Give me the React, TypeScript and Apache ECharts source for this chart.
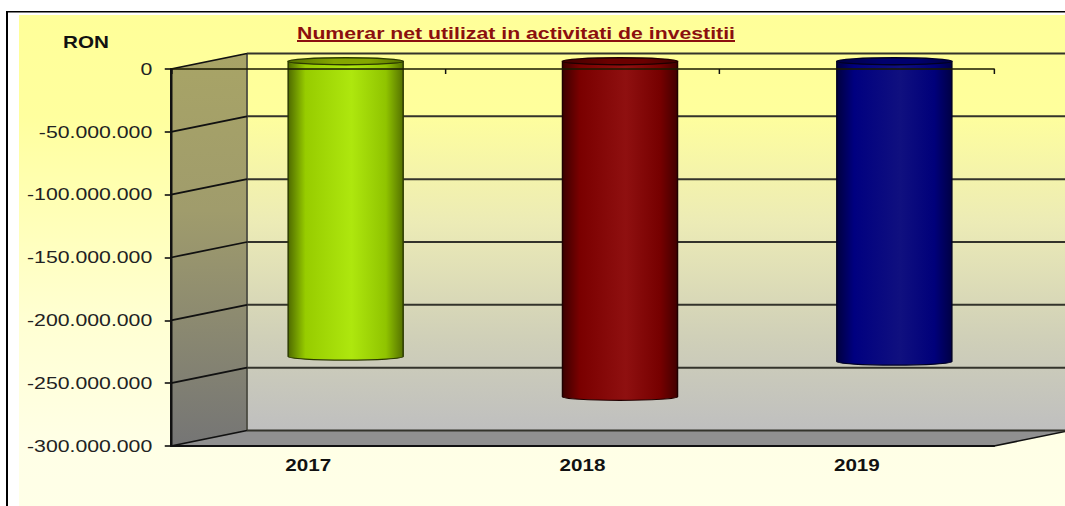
import React, { useEffect, useRef } from "react";
import * as echarts from "echarts";

const years = ["2017", "2018", "2019"];
const cashValues = [-235000000, -267000000, -239000000];
const yTicks = [0, -50000000, -100000000, -150000000, -200000000, -250000000, -300000000];
const yTickLabels = ["0", "-50.000.000", "-100.000.000", "-150.000.000", "-200.000.000", "-250.000.000", "-300.000.000"];
const chartTitle = "Numerar net utilizat in activitati de investitii";
const unitLabel = "RON";
// edge, shade, bright, shade, edge, rim, rim stroke
const barPalettes = [
  ["#4f6b00", "#97cc00", "#aee70e", "#90c400", "#557200", "#84a600", "#2c3a00"],
  ["#3c0000", "#7a0000", "#8f1010", "#760000", "#420000", "#6a0000", "#200000"],
  ["#00003f", "#000080", "#10107f", "#00007a", "#000045", "#00006e", "#000025"],
];

const SX = 1.25; // the reference is horizontally stretched
const W = 1065 / SX;
const H = 506;
const DX = 76 / SX;
const DY = 15.5;
const BAR_W = 115 / SX;
const RY = 3.5;

const barGradient = (p: string[]) =>
  new echarts.graphic.LinearGradient(0, 0, 1, 0, [
    { offset: 0, color: p[0] },
    { offset: 0.15, color: p[1] },
    { offset: 0.55, color: p[2] },
    { offset: 0.85, color: p[3] },
    { offset: 1, color: p[4] },
  ]);

const rimGradient = (p: string[]) =>
  new echarts.graphic.LinearGradient(0, 0, 1, 0, [
    { offset: 0, color: p[4] },
    { offset: 0.4, color: p[5] },
    { offset: 0.7, color: p[5] },
    { offset: 1, color: p[4] },
  ]);

const renderWalls = (params: any, api: any) => {
  const cs = params.coordSys;
  const y = api.coord([0, api.value(1)])[1];
  const x0 = cs.x;
  const x1 = cs.x + cs.width;
  const yt = cs.y;
  const yb = cs.y + cs.height;
  const children: any[] = [];
  if (params.dataIndex === 0) {
    children.push(
      {
        type: "rect",
        shape: { x: x0 + DX, y: yt - DY, width: cs.width + 10, height: cs.height },
        style: {
          fill: new echarts.graphic.LinearGradient(0, 0, 0, 1, [
            { offset: 0, color: "#ffff99" },
            { offset: 0.15, color: "#ffff9c" },
            { offset: 0.45, color: "#ecebb6" },
            { offset: 0.75, color: "#d0d0b8" },
            { offset: 1, color: "#bfbfbf" },
          ]),
        },
      },
      {
        type: "polygon",
        shape: { points: [[x0, yt], [x0 + DX, yt - DY], [x0 + DX, yb - DY], [x0, yb]] },
        style: {
          fill: new echarts.graphic.LinearGradient(0, 0, 0, 1, [
            { offset: 0, color: "#a8a466" },
            { offset: 0.4, color: "#a09c6c" },
            { offset: 1, color: "#757575" },
          ]),
        },
      },
      {
        type: "polygon",
        shape: { points: [[x0, yb], [x0 + DX, yb - DY], [x1 + DX, yb - DY], [x1, yb]] },
        style: { fill: "#909090" },
      },
      {
        type: "line",
        shape: { x1: x0 + DX, y1: yt - DY, x2: x0 + DX, y2: yb - DY },
        style: { stroke: "#4a4a40", lineWidth: 1.4 },
      },
      {
        type: "line",
        shape: { x1, y1: yb, x2: x1 + DX, y2: yb - DY },
        style: { stroke: "#111", lineWidth: 1.6 },
      }
    );
  }
  children.push(
    {
      type: "line",
      shape: { x1: x0, y1: y, x2: x0 + DX, y2: y - DY },
      style: { stroke: "#111", lineWidth: 1.8 },
    },
    {
      type: "line",
      shape: { x1: x0 + DX, y1: y - DY, x2: x1 + DX + 10, y2: y - DY },
      style: { stroke: "#33332b", lineWidth: 2 },
    }
  );
  return { type: "group", children };
};

const renderCylinder = (params: any, api: any) => {
  const idx = api.value(0);
  const top = api.coord([idx, 0]);
  const bottom = api.coord([idx, api.value(1)]);
  const cx = top[0] + DX / 2 - 0.4;
  const rx = BAR_W / 2;
  const yTop = top[1] - DY / 2;
  const yBot = bottom[1] - DY / 2;
  const p = barPalettes[params.dataIndex];
  const l = cx - rx;
  const r = cx + rx;
  return {
    type: "group",
    children: [
      {
        type: "path",
        shape: {
          pathData: `M${l} ${yTop}L${l} ${yBot}A${rx} ${RY} 0 0 0 ${r} ${yBot}L${r} ${yTop}Z`,
        },
        style: { fill: barGradient(p), stroke: p[6], lineWidth: 1.2 },
      },
      {
        type: "ellipse",
        shape: { cx, cy: yTop, rx, ry: RY },
        style: { fill: rimGradient(p), stroke: p[6], lineWidth: 1.3 },
      },
    ],
  };
};

export default function App() {
  const ref = useRef<HTMLDivElement>(null);
  useEffect(() => {
    document.body.style.margin = "0";
    const chart = echarts.init(ref.current!, null, { renderer: "svg" });
    chart.setOption({
      animation: false,
      backgroundColor: "#ffffff",
      title: {
        text: chartTitle,
        left: 516 / SX - 5,
        top: 20,
        textAlign: "center",
        textStyle: {
          fontFamily: "Liberation Sans",
          fontSize: 17,
          fontWeight: "bold",
          color: "#8b0f0f",
        },
      },
      graphic: [
        {
          type: "rect",
          z: -10,
          shape: { x: 19 / SX, y: 15, width: W, height: H },
          style: {
            fill: new echarts.graphic.LinearGradient(0, 0, 0, 1, [
              { offset: 0, color: "#ffff99" },
              { offset: 0.2, color: "#ffff9e" },
              { offset: 0.6, color: "#ffffd2" },
              { offset: 0.85, color: "#ffffe6" },
              { offset: 1, color: "#ffffe8" },
            ]),
          },
        },
        { type: "rect", z: -9, shape: { x: 6 / SX, y: 11, width: W, height: 1.6 }, style: { fill: "#000" } },
        { type: "rect", z: -9, shape: { x: 6 / SX, y: 11, width: 1.6, height: H }, style: { fill: "#000" } },
        {
          type: "rect",
          z: 10,
          shape: { x: 297 / SX, y: 40, width: 438 / SX, height: 2 },
          style: { fill: "#8b0f0f" },
        },
        {
          type: "text",
          z: 10,
          x: 63 / SX,
          y: 33.5,
          style: { text: unitLabel, fontFamily: "Liberation Sans", fontSize: 16.5, fontWeight: "bold", fill: "#111" },
        },
      ],
      grid: { left: 171 / SX, top: 69, width: 823 / SX, height: 377 },
      xAxis: [
        {
          type: "category",
          data: years,
          position: "bottom",
          z: 6,
          axisLine: { onZero: false, lineStyle: { color: "#111", width: 1.8 } },
          axisTick: { show: false },
          axisLabel: {
            margin: 11,
            fontFamily: "Liberation Sans",
            fontSize: 16.5,
            fontWeight: "bold",
            color: "#111",
          },
        },
        {
          type: "category",
          data: years,
          position: "top",
          z: 6,
          axisLine: { onZero: false, lineStyle: { color: "#1a1a00", width: 1.6 } },
          axisTick: { show: true, inside: true, length: 5, lineStyle: { color: "#111", width: 1.2 } },
          axisLabel: { show: false },
        },
      ],
      yAxis: {
        type: "value",
        min: -300000000,
        max: 0,
        interval: 50000000,
        z: 6,
        axisLine: { show: true, lineStyle: { color: "#111", width: 2 } },
        axisTick: { show: true, length: 5, lineStyle: { color: "#111", width: 1.6 } },
        splitLine: { show: false },
        axisLabel: {
          margin: 15,
          fontFamily: "Liberation Sans",
          fontSize: 17,
          color: "#222",
          formatter: (v: number) => yTickLabels[yTicks.indexOf(v)] ?? "",
        },
      },
      series: [
        {
          type: "custom",
          z: 1,
          silent: true,
          renderItem: renderWalls,
          data: yTicks.map((v) => [0, v]),
        },
        {
          type: "custom",
          z: 3,
          renderItem: renderCylinder,
          data: cashValues.map((v, i) => [i, v]),
        },
      ],
    });
    return () => chart.dispose();
  }, []);
  return (
    <div style={{ position: "relative", width: 1065, height: H, overflow: "hidden" }}>
      <div
        ref={ref}
        style={{
          width: W,
          height: H,
          transform: `scaleX(${SX})`,
          transformOrigin: "0 0",
        }}
      />
    </div>
  );
}
